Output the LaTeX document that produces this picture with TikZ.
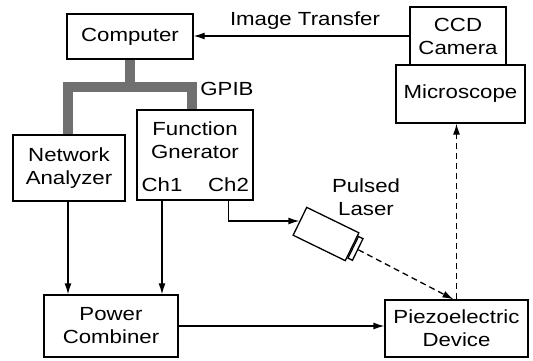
\documentclass[tikz,border=0pt]{standalone}
\usepackage{fontspec}
\setmainfont{Liberation Sans}[FakeStretch=1.17]
\usetikzlibrary{arrows.meta}
\definecolor{busgray}{RGB}{112,112,112}
\begin{document}
\begin{tikzpicture}[x=1pt,y=-1pt,
  font=\fontsize{19}{23}\selectfont,
  box/.style={draw,line width=1.3pt,align=center,inner sep=0pt},
  lbl/.style={align=center,inner sep=0pt},
  arr/.style={line width=1.3pt,-{Latex[length=11pt,width=7pt]}},
  darr/.style={arr,dash pattern=on 6pt off 4pt},
  bus/.style={line width=10pt,color=busgray}]
\useasboundingbox (0,0) rectangle (533,360);
\node[box,minimum width=126pt,minimum height=45pt] (comp) at (130,36.5) {Computer};
\node[box,minimum width=96pt,minimum height=58pt] (ccd) at (458,36) {CCD\\Camera};
\node[box,minimum width=129pt,minimum height=58pt] (micro) at (460.5,94) {Microscope};
\node[box,minimum width=112pt,minimum height=66pt] (netan) at (69,168) {Network\\Analyzer};
\node[box,minimum width=116pt,minimum height=90pt] (fgen) at (195,155) {};
\node[box,minimum width=134pt,minimum height=62pt] (comb) at (111,326) {Power\\Combiner};
\node[box,minimum width=143pt,minimum height=57pt] (piezo) at (456.5,328.5) {Piezoelectric\\Device};
\node[lbl] (fgtxt) at (195,140) {Function\\Gnerator};
\node[lbl] (ch1) at (162,185) {Ch1};
\node[lbl] (ch2) at (228.5,185) {Ch2};
\node[lbl] (gpib) at (227,89) {GPIB};
\node[lbl] (imgtxt) at (305,21) {Image Transfer};
\node[lbl] (lasertxt) at (366,197) {Pulsed\\Laser};
\node[draw,line width=1.3pt,rotate=-26,minimum width=58pt,minimum height=31pt,inner sep=0pt] (laser) at (326,234) {};
\node[draw,line width=1.3pt,rotate=-26,minimum width=5pt,minimum height=24pt,inner sep=0pt,anchor=west] (lens) at (laser.east) {};
\coordinate (busjoin) at (130,87);
\draw[bus] (comp.south) -- (busjoin);
\draw[bus] ([xshift=-1.5pt]netan.north) |- (busjoin) -| ([xshift=-3pt]fgen.north);
\draw[arr] (ccd.west) -- (ccd.west -| comp.east);
\draw[arr] ([xshift=-1pt]netan.south) -- ([xshift=-1pt]netan.south |- comb.north);
\draw[arr] (ch1 |- fgen.south) -- (ch1 |- comb.north);
\draw[arr] (ch2 |- fgen.south) |- (laser.west);
\draw[arr] (comb.east) -- (comb.east -| piezo.west);
\draw[darr] (lens.east) -- ([xshift=-3pt]piezo.north);
\draw[darr] (piezo.north) -- (piezo.north |- micro.south);
\end{tikzpicture}
\end{document}
